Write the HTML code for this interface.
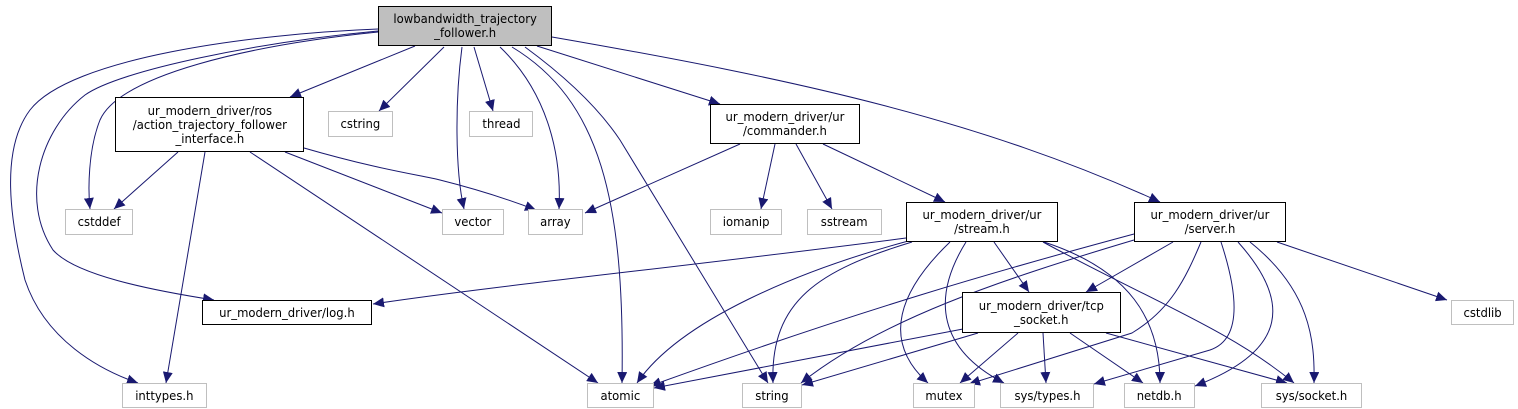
<!DOCTYPE html>
<html><head><meta charset="utf-8"><style>
body{margin:0;background:#fff;}
#c{position:relative;width:1518px;height:409px;overflow:hidden;font-family:"DejaVu Sans","Liberation Sans",sans-serif;font-size:12.5px;}
.n{position:absolute;box-sizing:border-box;border:1px solid #000;background:#fff;display:flex;align-items:center;justify-content:center;text-align:center;line-height:14px;color:#000;white-space:nowrap;}
.n span{display:inline-block;transform:scaleX(0.93);}
.g{border-color:#bfbfbf;}
svg{position:absolute;left:0;top:0;}
</style></head><body><div id="c">
<svg width="1518" height="409" viewBox="0 0 1518 409">
<defs><marker id="a" markerUnits="userSpaceOnUse" markerWidth="12" markerHeight="10" refX="11" refY="5" orient="auto"><path d="M0,0 L11,5 L0,10 z" fill="#191970"/></marker></defs>
<g fill="none" stroke="#191970" stroke-width="1" marker-end="url(#a)">
<path d="M378,29 C250,34 70,58 30,110 C0,150 10,220 25,280 C45,340 100,370 138,383"/>
<path d="M378,32 C250,45 120,75 100,120 C88,150 88,190 90,209"/>
<path d="M378,31 C260,42 120,70 85,95 C40,130 20,200 53,250 C75,275 150,290 214,300"/>
<path d="M415,46 L290,97"/>
<path d="M444,47 L379,111"/>
<path d="M462,47 C455,100 455,170 464,209"/>
<path d="M474,47 L493,111"/>
<path d="M500,47 C545,90 562,150 559,209"/>
<path d="M512,47 C600,100 625,200 622,383"/>
<path d="M525,47 C570,80 600,110 620,140 L768,383"/>
<path d="M537,46 L720,104"/>
<path d="M552,37 C800,80 980,120 1160,202"/>
<path d="M178,152 L114,209"/>
<path d="M205,152 L166,383"/>
<path d="M250,152 L598,383"/>
<path d="M285,152 L442,213"/>
<path d="M304,148 C380,170 420,175 440,180 C480,190 510,200 536,210"/>
<path d="M740,144 L585,213"/>
<path d="M775,144 L761,209"/>
<path d="M796,144 L832,209"/>
<path d="M823,144 L945,202"/>
<path d="M906,238 C700,265 500,285 373,304"/>
<path d="M912,240 C800,270 680,320 637,383"/>
<path d="M912,242 C820,270 770,300 773,383"/>
<path d="M950,242 C900,290 880,340 928,383"/>
<path d="M966,242 C930,300 940,350 1004,383"/>
<path d="M994,242 L1029,292"/>
<path d="M1044,242 C1130,270 1160,320 1160,383"/>
<path d="M1043,242 C1150,300 1230,330 1294,383"/>
<path d="M1134,234 C1000,270 860,310 650,386"/>
<path d="M1134,240 C1000,280 880,320 801,383"/>
<path d="M1173,242 L1086,292"/>
<path d="M1201,242 C1185,280 1170,310 1132,333 L969,384"/>
<path d="M1221,242 C1240,300 1240,340 1210,350 L1094,384"/>
<path d="M1238,242 C1290,300 1290,350 1195,386"/>
<path d="M1250,242 C1310,290 1315,340 1314,383"/>
<path d="M1277,242 L1447,300"/>
<path d="M963,329 L654,388"/>
<path d="M978,333 L802,385"/>
<path d="M1018,333 L960,383"/>
<path d="M1043,333 L1046,383"/>
<path d="M1070,333 L1143,383"/>
<path d="M1106,333 L1287,383"/>
</g></svg>
<div class="n" style="left:378px;top:6px;width:174px;height:40px;background:#bfbfbf;"><span>lowbandwidth_trajectory<br>_follower.h</span></div>
<div class="n" style="left:115px;top:97px;width:189px;height:55px;"><span>ur_modern_driver/ros<br>/action_trajectory_follower<br>_interface.h</span></div>
<div class="n g" style="left:328px;top:111px;width:65px;height:26px;"><span>cstring</span></div>
<div class="n g" style="left:469px;top:111px;width:64px;height:26px;"><span>thread</span></div>
<div class="n" style="left:710px;top:104px;width:150px;height:40px;"><span>ur_modern_driver/ur<br>/commander.h</span></div>
<div class="n g" style="left:65px;top:209px;width:68px;height:26px;"><span>cstddef</span></div>
<div class="n g" style="left:442px;top:209px;width:62px;height:26px;"><span>vector</span></div>
<div class="n g" style="left:528px;top:209px;width:55px;height:26px;"><span>array</span></div>
<div class="n g" style="left:710px;top:209px;width:72px;height:26px;"><span>iomanip</span></div>
<div class="n g" style="left:807px;top:209px;width:75px;height:26px;"><span>sstream</span></div>
<div class="n" style="left:906px;top:202px;width:152px;height:40px;"><span>ur_modern_driver/ur<br>/stream.h</span></div>
<div class="n" style="left:1134px;top:202px;width:152px;height:40px;"><span>ur_modern_driver/ur<br>/server.h</span></div>
<div class="n" style="left:962px;top:292px;width:159px;height:41px;"><span>ur_modern_driver/tcp<br>_socket.h</span></div>
<div class="n" style="left:202px;top:300px;width:170px;height:25px;"><span>ur_modern_driver/log.h</span></div>
<div class="n g" style="left:1451px;top:300px;width:63px;height:25px;"><span>cstdlib</span></div>
<div class="n g" style="left:122px;top:383px;width:85px;height:25px;"><span>inttypes.h</span></div>
<div class="n g" style="left:587px;top:383px;width:67px;height:25px;"><span>atomic</span></div>
<div class="n g" style="left:742px;top:383px;width:60px;height:25px;"><span>string</span></div>
<div class="n g" style="left:913px;top:383px;width:62px;height:25px;"><span>mutex</span></div>
<div class="n g" style="left:1000px;top:383px;width:94px;height:25px;"><span>sys/types.h</span></div>
<div class="n g" style="left:1124px;top:383px;width:71px;height:25px;"><span>netdb.h</span></div>
<div class="n g" style="left:1261px;top:383px;width:101px;height:25px;"><span>sys/socket.h</span></div>
</div></body></html>
